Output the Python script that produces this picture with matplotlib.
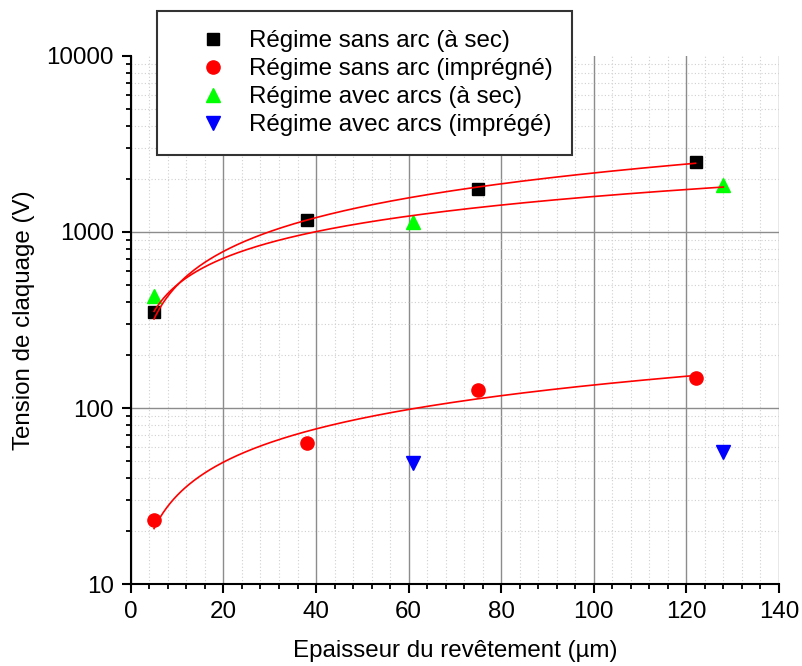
import numpy as np
import matplotlib
matplotlib.use("Agg")
import matplotlib.pyplot as plt
from matplotlib.ticker import FixedLocator, MultipleLocator, LogLocator, NullFormatter, FuncFormatter

# === DATA ===
x_sans_sec = [5, 38, 75, 122]
y_sans_sec = [353, 1176, 1751, 2486]

x_sans_imp = [5, 38, 75, 122]
y_sans_imp = [23.0, 62.9, 127, 147.6]

x_arcs_sec = [5, 61, 128]
y_arcs_sec = [435, 1140, 1854]

x_arcs_imp = [61, 128]
y_arcs_imp = [49, 56]

labels = [
    "Régime sans arc (à sec)",
    "Régime sans arc (imprégné)",
    "Régime avec arcs (à sec)",
    "Régime avec arcs (imprégé)",
]


# power-law fit y = a*x^b, least squares in linear space (like Origin's Allometric1)
def power_fit(x, y):
    x = np.asarray(x, float)
    y = np.asarray(y, float)
    best = None
    for b in np.linspace(0.05, 1.5, 2901):
        xb = x ** b
        a = np.sum(y * xb) / np.sum(xb * xb)
        sse = np.sum((y - a * xb) ** 2)
        if best is None or sse < best[0]:
            best = (sse, a, b)
    return best[1], best[2]


FS = 17.4
plt.rcParams["font.family"] = ["Liberation Sans", "DejaVu Sans"]
plt.rcParams["font.size"] = FS

fig = plt.figure(figsize=(8.03, 6.66), dpi=100)
ax = fig.add_axes([0.163, 0.123, 0.807, 0.793])

ms = 9
h1, = ax.plot(x_sans_sec, y_sans_sec, "s", color="black", markersize=ms, linestyle="none", zorder=3)
h2, = ax.plot(x_sans_imp, y_sans_imp, "o", color="red", markersize=ms + 0.5, linestyle="none", zorder=3)
h3, = ax.plot(x_arcs_sec, y_arcs_sec, "^", color="#00ff00", markersize=ms + 1, linestyle="none", zorder=3)
h4, = ax.plot(x_arcs_imp, y_arcs_imp, "v", color="blue", markersize=ms + 1, linestyle="none", zorder=3)

# fitted curves
for xs, ys in [(x_sans_sec, y_sans_sec), (x_sans_imp, y_sans_imp), (x_arcs_sec, y_arcs_sec)]:
    a, b = power_fit(xs, ys)
    xf = np.linspace(min(xs), max(xs), 300)
    ax.plot(xf, a * xf ** b, color="red", linewidth=1.2, zorder=4)

ax.set_yscale("log")
ax.set_xlim(0, 140)
ax.set_ylim(10, 10000)

ax.xaxis.set_major_locator(MultipleLocator(20))
ax.xaxis.set_minor_locator(MultipleLocator(4))
ax.yaxis.set_major_locator(FixedLocator([10, 100, 1000, 10000]))
ax.yaxis.set_minor_locator(LogLocator(base=10, subs=np.arange(2, 10)))
ax.yaxis.set_major_formatter(FuncFormatter(lambda v, p: f"{v:.0f}"))
ax.yaxis.set_minor_formatter(NullFormatter())

ax.grid(which="major", color="#8c8c8c", linewidth=1.0, linestyle="-")
ax.grid(which="minor", color="#d0d0d0", linewidth=0.8, linestyle=(0, (1, 2)))
ax.set_axisbelow(True)

ax.spines["top"].set_visible(False)
ax.spines["right"].set_visible(False)
for s in ["left", "bottom"]:
    ax.spines[s].set_linewidth(1.5)

ax.tick_params(which="major", direction="out", length=6.5, width=1.5, pad=6, labelsize=FS)
ax.tick_params(which="minor", direction="out", length=3.5, width=1.3)

ax.set_xlabel("Epaisseur du revêtement (µm)", fontsize=FS, labelpad=12)
ax.set_ylabel("Tension de claquage (V)", fontsize=FS, labelpad=8)

fig.canvas.draw()
# no grid line on the outer edges
xt = ax.xaxis.get_major_ticks()
xt[-1].gridline.set_visible(False)
yt = ax.yaxis.get_major_ticks()
yt[-1].gridline.set_visible(False)

leg = fig.legend([h1, h2, h3, h4], labels, loc="upper left",
                 bbox_to_anchor=(0.1955, 0.984), borderaxespad=0,
                 fancybox=False, framealpha=1, edgecolor="#333333",
                 fontsize=FS, borderpad=0.8, labelspacing=0.25,
                 handlelength=3.0, handletextpad=0.0)
leg.get_frame().set_linewidth(1.5)

fig.savefig("out.png", dpi=100)
